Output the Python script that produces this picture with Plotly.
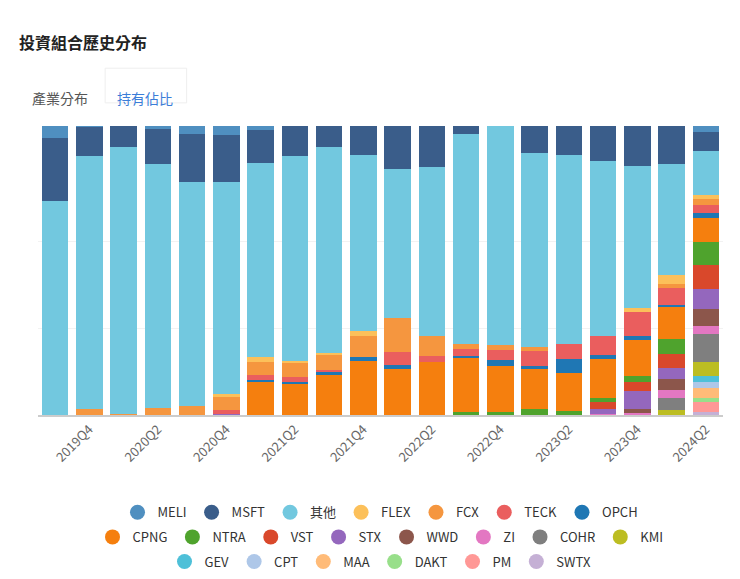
import plotly.graph_objects as go

quarters = ["2019Q3", "2019Q4", "2020Q1", "2020Q2", "2020Q3", "2020Q4", "2021Q1", "2021Q2", "2021Q3", "2021Q4",
            "2022Q1", "2022Q2", "2022Q3", "2022Q4", "2023Q1", "2023Q2", "2023Q3", "2023Q4", "2024Q1", "2024Q2"]

# holdings share (%) per quarter, legend order (top of stack first)
MELI = [4.0, 0.3, 0, 1.2, 2.7, 3.1, 1.5, 0, 0, 0, 0, 0, 0, 0, 0, 0, 0, 0, 0, 2.3]
MSFT = [22.0, 10.0, 7.3, 11.9, 16.8, 16.3, 11.4, 10.4, 7.3, 10.1, 15.0, 14.2, 2.7, 0, 9.2, 10.2, 12.1, 13.9, 13.1, 6.6]
OTHER = [74.0, 87.7, 92.2, 84.6, 77.4, 73.4, 67.2, 70.8, 71.1, 60.8, 51.7, 58.4, 72.8, 76.0, 67.2, 65.3, 60.7, 49.1, 38.4, 15.1]
FLEX = [0, 0, 0, 0, 0, 0.9, 1.4, 0.6, 1.0, 1.7, 0, 0, 0, 0, 0, 0, 0, 1.4, 3.2, 1.4]
FCX = [0, 2.0, 0.5, 2.3, 3.1, 4.6, 4.6, 5.1, 5.0, 7.2, 11.6, 6.9, 1.7, 1.5, 1.3, 0, 0, 0, 1.6, 2.1]
TECK = [0, 0, 0, 0, 0, 1.4, 1.8, 1.8, 0.8, 0, 4.6, 2.2, 2.3, 3.7, 5.3, 5.1, 6.4, 8.4, 5.8, 2.8]
OPCH = [0, 0, 0, 0, 0, 0, 0.5, 0.7, 0.9, 1.4, 1.2, 0, 0.8, 2.1, 1.0, 5.0, 1.4, 1.4, 0.7, 1.7]
CPNG = [0, 0, 0, 0, 0, 0, 11.6, 10.6, 13.9, 18.8, 16.0, 18.3, 18.7, 15.6, 14.0, 12.9, 13.4, 12.5, 11.0, 8.4]
NTRA = [0, 0, 0, 0, 0, 0, 0, 0, 0, 0, 0, 0, 0.9, 1.2, 2.0, 1.5, 1.4, 2.0, 5.1, 7.9]
VST = [0, 0, 0, 0, 0, 0, 0, 0, 0, 0, 0, 0, 0, 0, 0, 0, 2.5, 3.0, 5.0, 8.3]
STX = [0, 0, 0, 0, 0, 0.3, 0, 0, 0, 0, 0, 0, 0, 0, 0, 0, 1.9, 6.4, 3.7, 6.9]
WWD = [0, 0, 0, 0, 0, 0, 0, 0, 0, 0, 0, 0, 0, 0, 0, 0, 0, 1.4, 3.8, 5.8]
ZI = [0, 0, 0, 0, 0, 0, 0, 0, 0, 0, 0, 0, 0, 0, 0, 0, 0.2, 0.6, 2.7, 2.9]
COHR = [0, 0, 0, 0, 0, 0, 0, 0, 0, 0, 0, 0, 0, 0, 0, 0, 0, 0, 4.3, 9.5]
KMI = [0, 0, 0, 0, 0, 0, 0, 0, 0, 0, 0, 0, 0, 0, 0, 0, 0, 0, 1.7, 5.0]
GEV = [0] * 19 + [2.0]
CPT = [0] * 19 + [2.1]
MAA = [0] * 19 + [3.5]
DAKT = [0] * 19 + [1.4]
PM = [0] * 19 + [3.2]
SWTX = [0] * 19 + [1.2]

series = [
    ("MELI", MELI, "#4f8fc0"), ("MSFT", MSFT, "#3a5d8a"), ("其他", OTHER, "#72c8df"),
    ("FLEX", FLEX, "#fcc05a"), ("FCX", FCX, "#f5963f"), ("TECK", TECK, "#ea5e5e"),
    ("OPCH", OPCH, "#1f77b4"), ("CPNG", CPNG, "#f57f0e"), ("NTRA", NTRA, "#4fa32d"),
    ("VST", VST, "#d9482b"), ("STX", STX, "#9467bd"), ("WWD", WWD, "#8c564b"),
    ("ZI", ZI, "#e377c2"), ("COHR", COHR, "#7f7f7f"), ("KMI", KMI, "#bcbd22"),
    ("GEV", GEV, "#4ec0d8"), ("CPT", CPT, "#aec7e8"), ("MAA", MAA, "#ffbb78"),
    ("DAKT", DAKT, "#98df8a"), ("PM", PM, "#ff9896"), ("SWTX", SWTX, "#c5b0d5"),
]

fig = go.Figure()
# bars bottom-up
for name, vals, color in reversed(series):
    fig.add_trace(go.Bar(x=quarters, y=[v / 100 for v in vals], name=name,
                         marker=dict(color=color, line=dict(width=0)), showlegend=False))
# round legend markers, three rows (7 / 8 / 6)
for i, (name, vals, color) in enumerate(series):
    leg = "legend" if i < 7 else ("legend2" if i < 15 else "legend3")
    fig.add_trace(go.Scatter(x=[None], y=[None], mode="markers", name=name, legend=leg,
                             marker=dict(color=color, size=15, symbol="circle")))

legend_style = dict(orientation="h", x=0.5, xanchor="center", yanchor="top", traceorder="normal",
                    font=dict(size=13, color="#333"), itemwidth=30, bgcolor="rgba(0,0,0,0)")

fig.update_layout(
    width=740, height=579, barmode="stack", bargap=0.22,
    plot_bgcolor="white", paper_bgcolor="white",
    margin=dict(l=30, r=25, t=118, b=172, autoexpand=False),
    font=dict(family="Noto Sans CJK TC, Noto Sans", color="#333"),
    xaxis=dict(tickvals=quarters[1::2], tickangle=-45, tickfont=dict(size=13, color="#666"),
               showline=True, linecolor="#ccc", linewidth=1.5, ticks="", showgrid=False,
               automargin=False),
    yaxis=dict(range=[0, 1], tickvals=[0, 0.3, 0.6, 1.0], showticklabels=False,
               gridcolor="#f2f2f2", zeroline=False, automargin=False),
    legend=dict(legend_style, y=-0.285),
    legend2=dict(legend_style, y=-0.37),
    legend3=dict(legend_style, y=-0.455),
    shapes=[dict(type="rect", xref="paper", yref="paper", x0=0.098, x1=0.217, y0=1.08, y1=1.2,
                 line=dict(color="#eee", width=1), fillcolor="white", layer="below")],
    annotations=[
        dict(text="<b>投資組合歷史分布</b>", xref="paper", yref="paper", x=-0.03, y=1.34,
             xanchor="left", showarrow=False, font=dict(size=16, color="#222")),
        dict(text="產業分布", xref="paper", yref="paper", x=-0.012, y=1.14, xanchor="left",
             showarrow=False, font=dict(size=14, color="#555")),
        dict(text="持有佔比", xref="paper", yref="paper", x=0.113, y=1.14, xanchor="left",
             showarrow=False, font=dict(size=14, color="#3b7dd8")),
    ],
)
fig.write_html("out.html")
